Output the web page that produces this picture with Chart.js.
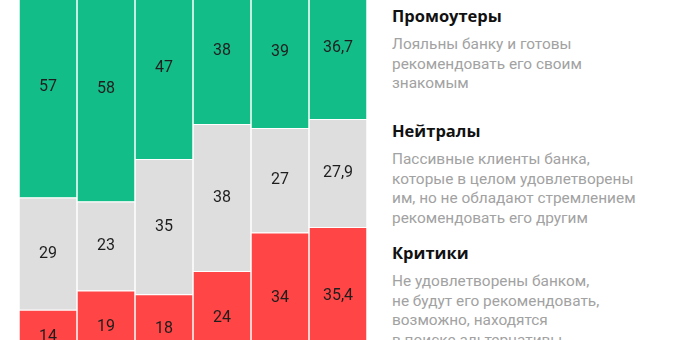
<!DOCTYPE html>
<html>
<head>
<meta charset="utf-8">
<script src="https://cdn.jsdelivr.net/npm/chart.js@4"></script>
<style>
  body { margin: 0; background: #fff; }
  #wrap { position: relative; width: 693px; height: 340px; overflow: hidden; background: #fff; }
  #bars { position: absolute; left: 19px; top: -23px; width: 348px; height: 387px; }
  #legend { position: absolute; left: 392px; top: 0; width: 300px; font-family: Roboto, sans-serif; }
  .grp { position: absolute; left: 0; width: 300px; }
  .grp h3 { margin: 0; font-family: "Open Sans", sans-serif; font-size: 16.5px; font-weight: 700; color: #111; line-height: 20px; }
  .grp p { margin: 0; margin-top: 9px; font-size: 15.4px; color: #a2a2a2; line-height: 19.6px; }
</style>
</head>
<body>
<div id="wrap">
  <div id="bars"><canvas id="npsChart"></canvas></div>
  <div id="legend"></div>
</div>
<script>
const periods = ['1', '2', '3', '4', '5', '6'];
const critics = [14, 19, 18, 24, 34, 35.4];
const neutrals = [29, 23, 35, 38, 27, 27.9];
const promoters = [57, 58, 47, 38, 39, 36.7];

const groupNames = ['Промоутеры', 'Нейтралы', 'Критики'];
const groupNotes = [
  ['Лояльны банку и готовы', 'рекомендовать его своим', 'знакомым'],
  ['Пассивные клиенты банка,', 'которые в целом удовлетворены', 'им, но не обладают стремлением', 'рекомендовать его другим'],
  ['Не удовлетворены банком,', 'не будут его рекомендовать,', 'возможно, находятся', 'в поиске альтернативы']
];

// legend block on the right
const groupTops = [6, 121, 243];
const legend = document.getElementById('legend');
groupNames.forEach((name, i) => {
  const div = document.createElement('div');
  div.className = 'grp';
  div.style.top = groupTops[i] + 'px';
  div.innerHTML = '<h3>' + name + '</h3><p>' + groupNotes[i].join('<br>') + '</p>';
  legend.appendChild(div);
});

// value in the middle of every segment
const segmentLabels = {
  id: 'segmentLabels',
  afterDatasetsDraw(chart) {
    const ctx = chart.ctx;
    const y = chart.scales.y;
    ctx.save();
    ctx.font = '16px Roboto, sans-serif';
    ctx.fillStyle = '#1e1e1e';
    ctx.textAlign = 'center';
    ctx.textBaseline = 'middle';
    chart.data.datasets.forEach((ds, di) => {
      const meta = chart.getDatasetMeta(di);
      meta.data.forEach((bar, i) => {
        let base = 0;
        for (let k = 0; k < di; k++) base += chart.data.datasets[k].data[i];
        const mid = y.getPixelForValue(base + ds.data[i] / 2);
        ctx.fillText(String(ds.data[i]).replace('.', ','), bar.x, mid);
      });
    });
    ctx.restore();
  }
};

const ctx = document.getElementById('npsChart').getContext('2d');
new Chart(ctx, {
  type: 'bar',
  data: {
    labels: periods,
    datasets: [
      { label: 'Критики', data: critics, backgroundColor: '#ff4545' },
      { label: 'Нейтралы', data: neutrals, backgroundColor: '#dedede' },
      { label: 'Промоутеры', data: promoters, backgroundColor: '#13bd88' }
    ]
  },
  options: {
    responsive: true,
    maintainAspectRatio: false,
    animation: false,
    layout: { padding: 0 },
    datasets: {
      bar: {
        barPercentage: 57 / 58,
        categoryPercentage: 1,
        borderColor: '#ffffff',
        borderWidth: { top: 1, right: 0, bottom: 0, left: 0 },
        borderSkipped: false,
        inflateAmount: 0
      }
    },
    plugins: {
      legend: { display: false },
      tooltip: { enabled: false }
    },
    scales: {
      x: { stacked: true, display: false },
      y: { stacked: true, display: false, min: 0, max: 100 }
    }
  },
  plugins: [segmentLabels]
});
</script>
</body>
</html>
